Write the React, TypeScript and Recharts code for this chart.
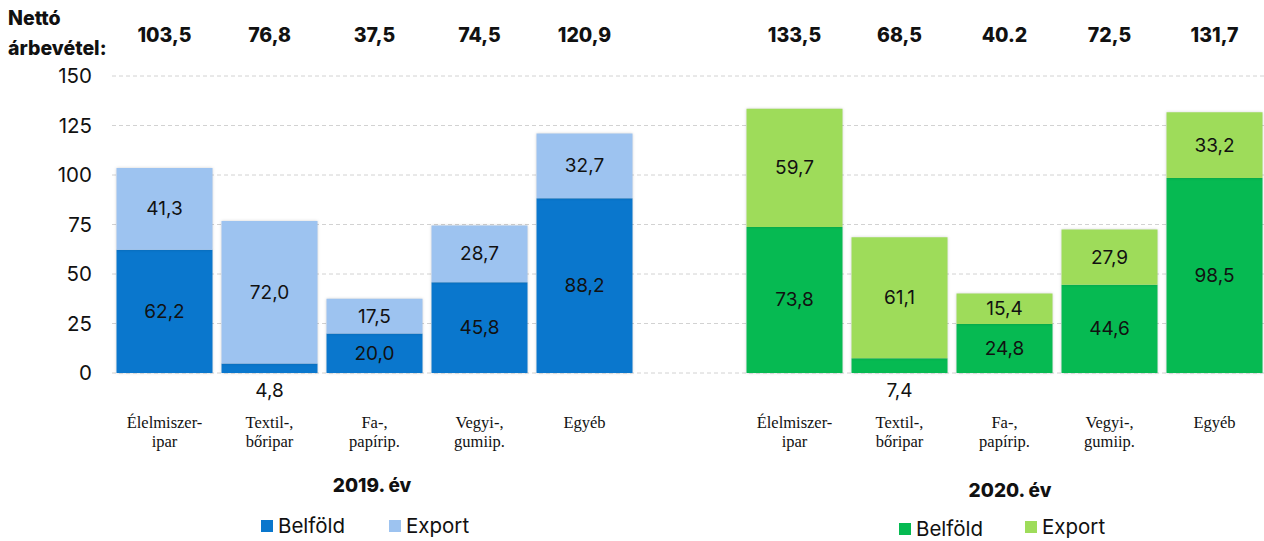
import { Bar, BarChart, CartesianGrid, Cell, LabelList, XAxis, YAxis } from 'recharts'

const categories = ['Élelmiszer-\nipar', 'Textil-,\nbőripar', 'Fa-,\npapírip.', 'Vegyi-,\ngumiip.', 'Egyéb']
const belfold2019 = [62.2, 4.8, 20.0, 45.8, 88.2]
const export2019 = [41.3, 72.0, 17.5, 28.7, 32.7]
const belfold2020 = [73.8, 7.4, 24.8, 44.6, 98.5]
const export2020 = [59.7, 61.1, 15.4, 27.9, 33.2]
const totals2019 = ['103,5', '76,8', '37,5', '74,5', '120,9']
const totals2020 = ['133,5', '68,5', '40.2', '72,5', '131,7']
const yTicks = [0, 25, 50, 75, 100, 125, 150]

const COLORS = {
  2019: { belfold: '#0a77cd', export: '#9dc3f0' },
  2020: { belfold: '#06ba52', export: '#9edc5a' },
}

const SANS = "Inter, 'Noto Sans', sans-serif"
const SERIF = "'Liberation Serif', 'DejaVu Serif', serif"

type Row = {
  id: string
  cat: string
  year: 2019 | 2020 | 0
  belfold: number | null
  export: number | null
  total: string
}

const rows: Row[] = [
  ...categories.map((cat, i) => ({
    id: `a${i}`,
    cat,
    year: 2019 as const,
    belfold: belfold2019[i],
    export: export2019[i],
    total: totals2019[i],
  })),
  { id: 'gap', cat: '', year: 0 as const, belfold: null, export: null, total: '' },
  ...categories.map((cat, i) => ({
    id: `b${i}`,
    cat,
    year: 2020 as const,
    belfold: belfold2020[i],
    export: export2020[i],
    total: totals2020[i],
  })),
]

const fmt = (v: number) => v.toFixed(1).replace('.', ',')

function CatTick({ x, y, payload }: any) {
  const row = rows.find((r) => r.id === payload.value)
  if (!row || !row.cat) return null
  return (
    <text x={x} y={y} textAnchor="middle" fontFamily={SERIF} fontSize={16.5} fill="#111">
      {row.cat.split('\n').map((line, i) => (
        <tspan key={i} x={x} dy={i === 0 ? 53 : 19}>
          {line}
        </tspan>
      ))}
    </text>
  )
}

function TotalTick({ x, payload }: any) {
  const row = rows.find((r) => r.id === payload.value)
  if (!row || !row.total) return null
  return (
    <text x={x} y={42} textAnchor="middle" fontFamily={SANS} fontWeight={800} fontSize={19.5} fill="#111">
      {row.total}
    </text>
  )
}

function SegLabel(props: any) {
  const { x, y, width, height, value } = props
  if (value == null) return null
  const small = value < 10
  const cy = small ? y + height + 17 : y + height / 2
  return (
    <text
      x={x + width / 2}
      y={cy}
      textAnchor="middle"
      dominantBaseline="central"
      fontFamily={SANS}
      fontSize={19}
      fill="#111"
    >
      {fmt(value)}
    </text>
  )
}

function LegendItem({ left, top, color, label }: { left: number; top: number; color: string; label: string }) {
  return (
    <div style={{ position: 'absolute', left, top, display: 'flex', alignItems: 'center', fontFamily: SANS, fontSize: 20.5, color: '#111' }}>
      <span style={{ width: 12, height: 12, background: color, marginRight: 5, display: 'inline-block' }} />
      <span style={{ lineHeight: '22px' }}>{label}</span>
    </div>
  )
}

export default function App() {
  return (
    <div style={{ position: 'fixed', left: 0, top: 0, width: 1264, height: 541, overflow: 'hidden', background: '#fff' }}>
      <style>{`.recharts-bar-rectangle path{filter:drop-shadow(0 0 1.5px rgba(0,0,0,0.18))}`}</style>
      <BarChart
        width={1267}
        height={541}
        data={rows}
        margin={{ top: 0, right: 0, bottom: 0, left: 0 }}
        barCategoryGap="4.3%"
      >
        <CartesianGrid vertical={false} stroke="#d2d2d2" strokeDasharray="4 3" />
        <XAxis
          dataKey="id"
          height={168}
          interval={0}
          tickLine={false}
          axisLine={false}
          tickSize={0}
          tick={<CatTick />}
        />
        <XAxis
          xAxisId="top"
          orientation="top"
          dataKey="id"
          height={76}
          interval={0}
          tickLine={false}
          axisLine={false}
          tickSize={0}
          tick={<TotalTick />}
        />
        <YAxis
          width={112}
          domain={[0, 150]}
          ticks={yTicks}
          tickLine={false}
          axisLine={false}
          tickSize={0}
          tickMargin={20}
          tick={{ fill: '#111', fontSize: 20.5, fontFamily: SANS }}
        />
        <Bar dataKey="belfold" stackId="s" isAnimationActive={false}>
          {rows.map((r, i) => (
            <Cell key={i} fill={r.year ? COLORS[r.year].belfold : 'none'} />
          ))}
          <LabelList dataKey="belfold" content={<SegLabel />} />
        </Bar>
        <Bar dataKey="export" stackId="s" isAnimationActive={false}>
          {rows.map((r, i) => (
            <Cell key={i} fill={r.year ? COLORS[r.year].export : 'none'} />
          ))}
          <LabelList dataKey="export" content={<SegLabel />} />
        </Bar>
      </BarChart>

      <div style={{ position: 'absolute', left: 8, top: 3, fontFamily: SANS, fontWeight: 800, fontSize: 19.5, lineHeight: '30px', color: '#111' }}>
        Nettó
        <br />
        árbevétel:
      </div>

      <div style={{ position: 'absolute', left: 372, top: 485, transform: 'translate(-50%, -50%)', fontFamily: SANS, fontWeight: 800, fontSize: 19, color: '#111', whiteSpace: 'nowrap' }}>
        2019. év
      </div>
      <div style={{ position: 'absolute', left: 1010, top: 490, transform: 'translate(-50%, -50%)', fontFamily: SANS, fontWeight: 800, fontSize: 19, color: '#111', whiteSpace: 'nowrap' }}>
        2020. év
      </div>

      <LegendItem left={261} top={515} color={COLORS[2019].belfold} label="Belföld" />
      <LegendItem left={389} top={515} color={COLORS[2019].export} label="Export" />
      <LegendItem left={899} top={518} color={COLORS[2020].belfold} label="Belföld" />
      <LegendItem left={1025} top={516} color={COLORS[2020].export} label="Export" />
    </div>
  )
}
